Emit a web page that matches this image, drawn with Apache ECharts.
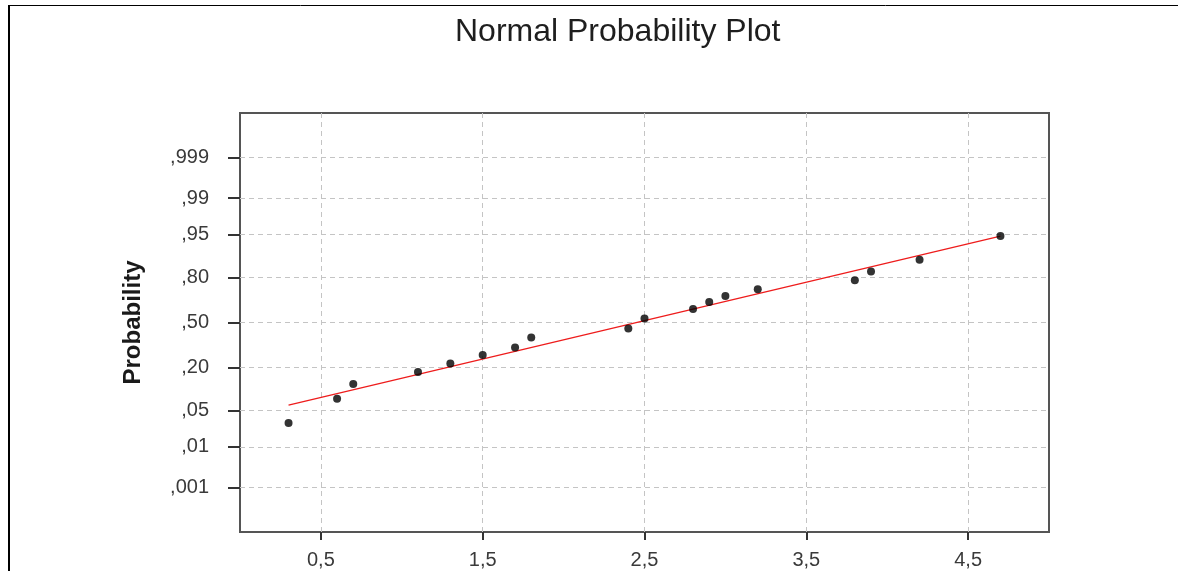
<!DOCTYPE html>
<html>
<head>
<meta charset="utf-8">
<script src="https://cdn.jsdelivr.net/npm/echarts@6/dist/echarts.min.js"></script>
<style>
html,body{margin:0;padding:0;background:#fff;}
#chart{width:1178px;height:571px;}
</style>
</head>
<body>
<div id="chart"></div>
<script>
// ---- data ----
const xValues = [0.3, 0.6, 0.7, 1.1, 1.3, 1.5, 1.7, 1.8, 2.4, 2.5, 2.8, 2.9, 3.0, 3.2, 3.8, 3.9, 4.2, 4.7];
const probValues = [0.030, 0.077, 0.125, 0.177, 0.222, 0.271, 0.320, 0.390, 0.455, 0.530, 0.600, 0.650, 0.690, 0.733, 0.786, 0.830, 0.880, 0.947];
const fitX = [0.3, 4.7];
const fitProb = [0.061, 0.947];
const probTicks = [0.001, 0.01, 0.05, 0.20, 0.50, 0.80, 0.95, 0.99, 0.999];
const probTickLabels = [',001', ',01', ',05', ',20', ',50', ',80', ',95', ',99', ',999'];
const xTicks = [0.5, 1.5, 2.5, 3.5, 4.5];
const xTickLabels = ['0,5', '1,5', '2,5', '3,5', '4,5'];

// inverse normal CDF (probability scale)
function probit(p) {
  const a = [-3.969683028665376e+01, 2.209460984245205e+02, -2.759285104469687e+02, 1.383577518672690e+02, -3.066479806614716e+01, 2.506628277459239e+00];
  const b = [-5.447609879822406e+01, 1.615858368580409e+02, -1.556989798598866e+02, 6.680131188771972e+01, -1.328068155288572e+01];
  const c = [-7.784894002430293e-03, -3.223964580411365e-01, -2.400758277161838e+00, -2.549732539343734e+00, 4.374664141464968e+00, 2.938163982698783e+00];
  const d = [7.784695709041462e-03, 3.224671290700398e-01, 2.445134137142996e+00, 3.754408661907416e+00];
  const plow = 0.02425;
  let q, r;
  if (p < plow) {
    q = Math.sqrt(-2 * Math.log(p));
    return (((((c[0]*q+c[1])*q+c[2])*q+c[3])*q+c[4])*q+c[5]) / ((((d[0]*q+d[1])*q+d[2])*q+d[3])*q+1);
  } else if (p <= 1 - plow) {
    q = p - 0.5; r = q*q;
    return (((((a[0]*r+a[1])*r+a[2])*r+a[3])*r+a[4])*r+a[5])*q / (((((b[0]*r+b[1])*r+b[2])*r+b[3])*r+b[4])*r+1);
  } else {
    q = Math.sqrt(-2 * Math.log(1 - p));
    return -(((((c[0]*q+c[1])*q+c[2])*q+c[3])*q+c[4])*q+c[5]) / ((((d[0]*q+d[1])*q+d[2])*q+d[3])*q+1);
  }
}

const yTickZ = probTicks.map(probit);
const points = xValues.map((x, i) => [x, probit(probValues[i])]);
const fitLine = fitX.map((x, i) => [x, probit(fitProb[i])]);

const FONT = '"Liberation Sans", Arial, Helvetica, sans-serif';
const chart = echarts.init(document.getElementById('chart'), null, {renderer: 'canvas'});
chart.setOption({
  animation: false,
  backgroundColor: '#ffffff',
  title: {
    text: 'Normal Probability Plot',
    left: 450,
    top: 11,
    textStyle: {fontFamily: FONT, fontSize: 32, fontWeight: 'normal', color: '#1e1e1e'}
  },
  graphic: [
    {type: 'line', shape: {x1: 8, y1: 5.5, x2: 1178, y2: 5.5}, style: {stroke: '#000', lineWidth: 1}},
    {type: 'line', shape: {x1: 9, y1: 5, x2: 9, y2: 571}, style: {stroke: '#000', lineWidth: 2}}
  ],
  grid: {
    left: 240, right: 129, top: 113, bottom: 39,
    show: true, borderColor: '#555', borderWidth: 2, backgroundColor: 'transparent'
  },
  xAxis: {
    type: 'value', min: 0, max: 5,
    axisLine: {show: false, onZero: false},
    axisTick: {show: true, inside: false, length: 8, customValues: xTicks, lineStyle: {color: '#333', width: 2}},
    axisLabel: {
      customValues: xTicks, margin: 18,
      fontFamily: FONT, fontSize: 20, color: '#3a3a3a',
      formatter: v => { const i = xTicks.findIndex(t => Math.abs(t - v) < 1e-6); return i >= 0 ? xTickLabels[i] : ''; }
    },
    splitLine: {show: true, lineStyle: {color: '#c4c4c4', type: [5, 4], width: 1}}
  },
  yAxis: {
    type: 'value', min: -3.92, max: 3.92,
    name: 'Probability', nameLocation: 'middle', nameGap: 95,
    nameTextStyle: {fontFamily: FONT, fontSize: 24, fontWeight: 'bold', color: '#1a1a1a'},
    axisLine: {show: false, onZero: false},
    axisTick: {show: true, inside: false, length: 12, customValues: yTickZ, lineStyle: {color: '#333', width: 2}},
    axisLabel: {
      customValues: yTickZ, margin: 31,
      fontFamily: FONT, fontSize: 20, color: '#3a3a3a',
      formatter: v => { const i = yTickZ.findIndex(t => Math.abs(t - v) < 1e-6); return i >= 0 ? probTickLabels[i] : ''; }
    },
    splitLine: {show: true, lineStyle: {color: '#c4c4c4', type: [5, 4], width: 1}}
  },
  series: [
    {
      type: 'line', data: fitLine, showSymbol: false, symbol: 'none',
      lineStyle: {color: '#ee1c1c', width: 1.3}, z: 2
    },
    {
      type: 'scatter', data: points, symbol: 'circle', symbolSize: 8,
      itemStyle: {color: '#000'}, z: 3
    }
  ]
});
</script>
</body>
</html>
